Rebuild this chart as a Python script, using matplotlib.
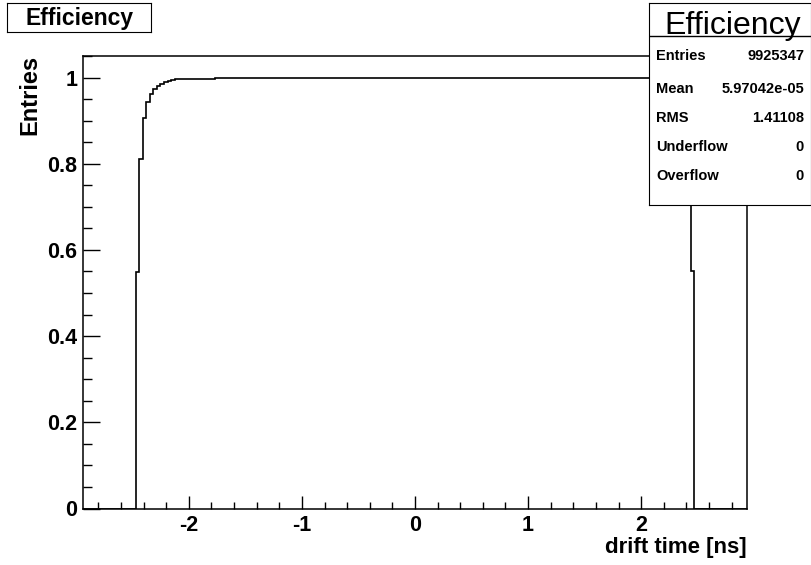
import matplotlib
matplotlib.use('Agg')
import matplotlib.pyplot as plt
from matplotlib.ticker import MultipleLocator, FuncFormatter
import numpy as np

plt.rcParams['font.family'] = ['Liberation Sans', 'DejaVu Sans']
plt.rcParams['axes.unicode_minus'] = False

# histogram range and bin width (ns)
x_min, x_max = -2.9375, 2.9375
bin_w = 1 / 32
rise_start = -2.46875
# rising edge bins, one per bin starting at rise_start
rise_vals = [0.549, 0.81, 0.907, 0.943, 0.961, 0.973, 0.980, 0.985, 0.989, 0.992, 0.995]
# flat parts of the plateau
flat_edges = [-2.125, -1.77, 1.69, 2.4375]
flat_vals = [0.996, 1.0, 0.998]
# last bin before the falling edge
fall_vals = [0.55]

stats_names = ['Entries', 'Mean', 'RMS', 'Underflow', 'Overflow']
stats_vals = ['9925347', '5.97042e-05', '1.41108', '0', '0']

edges = [x_min] + [rise_start + i * bin_w for i in range(len(rise_vals) + 1)]
edges += flat_edges[1:] + [flat_edges[-1] + bin_w * len(fall_vals), x_max]
values = [0] + rise_vals + flat_vals + fall_vals + [0]

W, H = 812, 565
fig = plt.figure(figsize=(W / 100, H / 100), dpi=100)
ax = fig.add_axes([82.7 / W, 1 - 508.5 / H, (747.3 - 82.7) / W, (508.5 - 56) / H])
ax.stairs(values, edges, color='black', linewidth=1.2)
ax.set_xlim(x_min, x_max)
ax.set_ylim(0, 1.05)

ax.xaxis.set_major_locator(MultipleLocator(1))
ax.xaxis.set_minor_locator(MultipleLocator(0.2))
ax.yaxis.set_major_locator(MultipleLocator(0.2))
ax.yaxis.set_minor_locator(MultipleLocator(0.05))
fmt = FuncFormatter(lambda v, p: '{:g}'.format(round(v, 3)))
ax.xaxis.set_major_formatter(fmt)
ax.yaxis.set_major_formatter(fmt)
ax.tick_params(axis='x', which='major', direction='in', length=9.5, width=1, pad=5)
ax.tick_params(axis='x', which='minor', direction='in', length=5, width=1)
ax.tick_params(axis='y', which='major', direction='in', length=12, width=1, pad=4)
ax.tick_params(axis='y', which='minor', direction='in', length=6.5, width=1)
for lab in ax.get_xticklabels() + ax.get_yticklabels():
    lab.set_fontweight('bold')
    lab.set_fontsize(15.5)
for s in ax.spines.values():
    s.set_linewidth(1.1)

fig.text(30 / W, 1 - 55 / H, 'Entries', rotation=90, ha='center', va='top',
         fontsize=17, fontweight='bold')
fig.text(747 / W, 1 - 548 / H, 'drift time [ns]', ha='right', va='center',
         fontsize=16, fontweight='bold')

# title box top-left
tax = fig.add_axes([7.3 / W, 1 - 31.7 / H, (151 - 7.3) / W, (31.7 - 3.3) / H])
tax.set_xticks([])
tax.set_yticks([])
tax.text(0.5, 0.45, 'Efficiency', ha='center', va='center', fontsize=16.5,
         fontweight='bold', transform=tax.transAxes)

# stats box
sx0, sx1, sy0, sy1 = 649, 811, 3, 205
sax = fig.add_axes([sx0 / W, 1 - sy1 / H, (sx1 - sx0) / W, (sy1 - sy0) / H])
sax.set_facecolor('white')
sax.set_xticks([])
sax.set_yticks([])
sax.set_xlim(sx0, sx1)
sax.set_ylim(sy1, sy0)
sax.axhline(36, color='black', linewidth=1)
sax.text((sx0 + sx1) / 2 + 3, 34, 'Efficiency', ha='center', va='baseline', fontsize=23)
row_y = [56, 89, 118, 147, 176]
for name, val, y in zip(stats_names, stats_vals, row_y):
    sax.text(656, y, name, ha='left', va='center', fontsize=10.5, fontweight='bold')
    sax.text(804, y, val, ha='right', va='center', fontsize=10.5, fontweight='bold')

fig.savefig('out.png', dpi=100)
